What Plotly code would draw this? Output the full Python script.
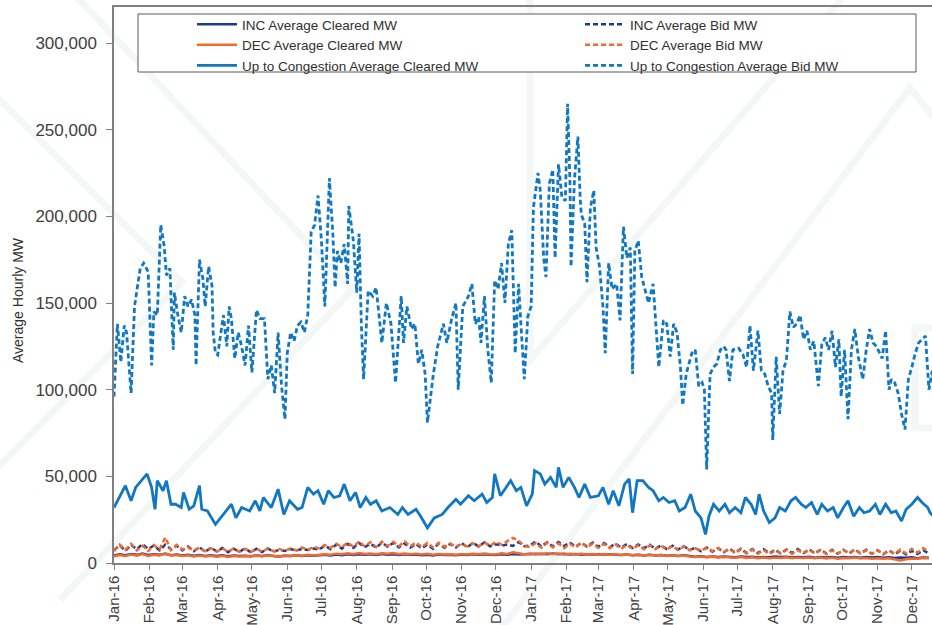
import pandas as pd
import plotly.graph_objects as go

# ---------------- data ----------------
START = "2016-01-01"

# Up to Congestion Average Bid MW (day offset from 1 Jan 2016, MW)
utc_bid_day = [0, 3, 6, 9, 11, 15, 18, 21, 23, 26, 30, 33, 35, 38, 41, 44, 46, 49, 52, 53,
               56, 59, 62, 65, 68, 71, 72, 75, 78, 80, 83, 86, 87, 89, 91, 96, 99, 101, 103, 106,
               109, 112, 115, 118, 121, 125, 128, 132, 135, 138, 141, 144, 147, 150, 152, 155, 158, 161, 164, 167,
               170, 173, 176, 179, 182, 185, 189, 192, 194, 196, 199, 202, 205, 206, 210, 213, 215, 217, 219, 223,
               227, 230, 235, 239, 243, 247, 252, 254, 257, 261, 264, 267, 270, 273, 275, 280, 284, 289, 292, 296,
               300, 302, 306, 311, 314, 317, 320, 322, 325, 328, 331, 334, 337, 340, 343, 346, 349, 352, 355, 357,
               360, 363, 366, 368, 372, 374, 377, 379, 382, 385, 387, 390, 393, 396, 398, 400, 401, 404, 407, 409,
               410, 413, 415, 418, 421, 423, 426, 429, 431, 434, 437, 441, 444, 447, 450, 453, 455, 457, 460, 463,
               466, 469, 473, 478, 482, 485, 488, 491, 494, 497, 499, 502, 507, 510, 513, 516, 518, 520, 523, 526,
               529, 532, 535, 537, 540, 543, 548, 552, 555, 558, 561, 565, 568, 571, 574, 577, 578, 581, 584, 587,
               590, 593, 596, 599, 602, 605, 608, 611, 614, 618, 621, 624, 627, 630, 633, 636, 638, 641, 644, 647,
               650, 653, 657, 660, 663, 666, 669, 674, 677, 680, 682, 685, 688, 691, 694, 697, 700, 703, 706, 709,
               712, 715, 718, 720]
utc_bid_mw = [96000, 138000, 116000, 137000, 133000, 98000, 148000, 162000, 170000, 173000, 168000, 114000, 145000, 143000, 195000, 183000, 166000, 170000, 123000, 156000,
              143000, 133000, 154000, 148000, 152000, 143000, 114000, 175000, 164000, 148000, 171000, 160000, 133000, 121000, 120000, 143000, 125000, 148000, 141000, 118000,
              133000, 125000, 114000, 137000, 110000, 146000, 141000, 141000, 106000, 114000, 98000, 133000, 102000, 83000, 121000, 133000, 128000, 137000, 139000, 133000,
              143000, 191000, 195000, 212000, 186000, 148000, 222000, 190000, 159000, 180000, 173000, 184000, 161000, 206000, 186000, 156000, 190000, 138000, 106000, 157000,
              154000, 159000, 127000, 150000, 138000, 104000, 154000, 127000, 148000, 135000, 138000, 115000, 123000, 109000, 81000, 108000, 125000, 138000, 127000, 140000,
              150000, 100000, 148000, 154000, 161000, 138000, 142000, 127000, 154000, 123000, 104000, 163000, 158000, 173000, 150000, 184000, 192000, 121000, 161000, 138000,
              106000, 142000, 148000, 205000, 225000, 215000, 176000, 165000, 219000, 227000, 176000, 230000, 211000, 209000, 265000, 221000, 171000, 221000, 246000, 211000,
              201000, 196000, 162000, 205000, 215000, 182000, 171000, 148000, 121000, 173000, 158000, 161000, 140000, 194000, 176000, 182000, 109000, 180000, 186000, 165000,
              158000, 150000, 161000, 113000, 140000, 138000, 119000, 138000, 133000, 113000, 91000, 109000, 121000, 123000, 102000, 104000, 100000, 54000, 109000, 113000,
              115000, 123000, 125000, 123000, 105000, 123000, 124000, 120000, 113000, 137000, 111000, 134000, 111000, 109000, 102000, 98000, 71000, 119000, 86000, 111000,
              117000, 145000, 136000, 138000, 143000, 129000, 134000, 123000, 128000, 102000, 126000, 130000, 123000, 134000, 113000, 129000, 96000, 123000, 83000, 123000,
              135000, 119000, 106000, 123000, 135000, 127000, 125000, 118000, 134000, 100000, 106000, 104000, 98000, 86000, 77000, 106000, 113000, 121000, 127000, 129000,
              131000, 100000, 111000, 97000]

# Up to Congestion Average Cleared MW
utc_clr_day = [0, 6, 10, 15, 19, 24, 29, 33, 36, 38, 43, 46, 50, 54, 59, 61, 66, 70, 75, 77,
               82, 89, 96, 103, 107, 112, 119, 124, 128, 131, 138, 144, 149, 154, 161, 165, 170, 175, 179, 184,
               188, 193, 198, 202, 207, 212, 216, 221, 225, 230, 235, 242, 249, 253, 258, 265, 269, 275, 281, 288,
               293, 300, 304, 311, 316, 323, 327, 332, 334, 339, 344, 348, 353, 357, 362, 367, 369, 374, 378, 383,
               388, 390, 394, 399, 404, 408, 413, 418, 425, 429, 434, 438, 443, 448, 452, 455, 459, 464, 469, 473,
               478, 482, 487, 492, 496, 501, 506, 510, 515, 519, 522, 526, 531, 536, 540, 545, 550, 554, 559, 563,
               566, 570, 575, 580, 584, 589, 594, 598, 603, 607, 612, 617, 621, 626, 631, 635, 640, 644, 649, 654,
               658, 663, 668, 672, 677, 682, 686, 691, 695, 700, 705, 709, 714, 716, 719]
utc_clr_mw = [32000, 39700, 44600, 35900, 43600, 47500, 51400, 43600, 31000, 47500, 41700, 47500, 33900, 33900, 32000, 40700, 31000, 33000, 44600, 31000,
              30000, 22300, 28000, 33900, 26000, 32000, 30000, 35900, 30000, 37800, 32000, 42600, 28000, 35900, 31000, 32000, 43600, 39700, 41700, 33900,
              41700, 37800, 38800, 45500, 35900, 40700, 32000, 37800, 33900, 35900, 30000, 32000, 28000, 32000, 28000, 31000, 27000, 20300, 26000, 28000,
              32000, 36800, 33900, 38800, 35900, 39700, 34900, 37800, 51400, 38800, 43600, 47500, 41700, 43600, 33000, 39700, 53300, 51400, 45500, 49400,
              43600, 55200, 43600, 49400, 43600, 37800, 45500, 37800, 38800, 43600, 33900, 41700, 33000, 45500, 48500, 29000, 47500, 47500, 43600, 41700,
              35900, 37800, 34900, 35900, 30000, 32000, 39700, 30000, 26000, 16500, 27000, 33900, 30000, 33900, 29000, 32000, 29000, 37800, 33900, 28000,
              39700, 30000, 23300, 26000, 32000, 30000, 35900, 37800, 33900, 32000, 34900, 28000, 33900, 30000, 32000, 26000, 32000, 35900, 27000, 32000,
              29000, 30000, 33900, 28000, 33900, 29000, 30000, 24200, 31000, 33900, 37800, 34900, 32000, 29000, 27000]

# INC / DEC series on a 5-day grid (day offsets 0, 5, 10, ...)
small_day = list(range(0, 720, 5))

inc_bid_mw = [7400, 10200, 7000, 10500, 7900, 10900, 8100, 10100, 7300, 10600, 7900, 10000,
              7200, 9500, 6800, 9100, 6500, 8800, 6700, 8600, 6200, 8300, 6400, 8500,
              6100, 8200, 6300, 8400, 6500, 7600, 7000, 8000, 7200, 8100, 7500, 8400,
              7800, 10000, 8000, 10600, 8300, 11100, 8700, 11600, 9100, 11200, 8800, 11800,
              9400, 11600, 9000, 11300, 8900, 10900, 8500, 10700, 8200, 11200, 8800, 11000,
              9000, 11400, 9100, 11700, 9400, 12000, 9600, 10800, 10000, 10700, 9800, 12100, 9700,
              10100, 12400, 9500, 11900, 9600, 12100, 9800, 11800, 9300, 11600, 9500, 11800,
              9400, 11500, 9100, 11200, 8900, 11000, 8700, 10700, 8500, 10500, 8200, 10200,
              8000, 10000, 7800, 9700, 7500, 8800, 6800, 8900, 6500, 8600, 6200, 8300,
              6000, 8200, 5800, 8000, 5700, 7900, 5600, 7700, 5500, 7800, 5700, 8000,
              5800, 7900, 5600, 7700, 5400, 7600, 5300, 7500, 5500, 7800, 5600, 7600,
              5300, 7400, 5100, 7300, 5000, 7200, 4900, 7000, 5200, 7400, 5500]

dec_bid_mw = [6800, 10600, 7600, 11100, 7200, 10000, 6900, 10400, 8000, 14800, 7400, 10500,
              7800, 9000, 7200, 8800, 6800, 8600, 6600, 8400, 6500, 8300, 6400, 8200,
              6300, 8200, 6500, 8400, 6700, 8000, 7000, 8500, 7200, 9000, 7400, 9400,
              8400, 10400, 8800, 11100, 9200, 11800, 9300, 12400, 9600, 12000, 9200, 12300,
              9800, 12200, 9700, 12500, 9600, 11800, 9200, 11700, 9000, 11600, 9400, 11200,
              9300, 11100, 9500, 11400, 9600, 11800, 9900, 12300, 10600, 12400, 14500, 12800, 9900,
              9200, 11500, 8800, 11700, 9000, 11300, 8600, 11100, 8900, 11800, 9100, 11200,
              8700, 11000, 8500, 10700, 8300, 10400, 8100, 10300, 7900, 10100, 8000, 10000,
              7700, 9800, 7500, 9600, 7300, 8400, 7200, 8800, 6900, 8500, 6600, 8000,
              5700, 7900, 5500, 7700, 5300, 7500, 5100, 7300, 5400, 7600, 5200, 7400,
              5500, 7700, 5300, 7500, 5100, 7300, 5400, 7700, 5600, 7900, 5500, 7500,
              5200, 7400, 5000, 7200, 5300, 7700, 5500, 8200, 6000, 8600, 6300]

inc_clr_mw = [4300, 5000, 4500, 5200, 4700, 5400, 4600, 5100, 4800, 5300, 4500, 4900,
              4400, 4800, 4200, 4600, 4100, 4500, 4000, 4400, 3900, 4300, 4000, 4200,
              3900, 4300, 4000, 4400, 4100, 3800, 4200, 4000, 4400, 4100, 4500, 4200,
              4400, 4800, 4300, 4900, 4500, 5000, 4600, 5100, 4700, 5000, 4600, 5200,
              4800, 5100, 4600, 5000, 4700, 4900, 4500, 4800, 4400, 4900, 4600, 4800,
              4500, 4900, 4600, 5000, 4700, 5100, 4800, 4600, 5000, 4700, 5200, 4900, 5100,
              5300, 5000, 5400, 5100, 5500, 5000, 5300, 4900, 5200, 4800, 5100, 4900,
              5000, 4700, 5100, 4800, 4600, 4900, 4500, 4800, 4400, 4700, 4300, 4600,
              4200, 4500, 4100, 4400, 3900, 3600, 3900, 3500, 3800, 3400, 3700, 3500,
              3300, 3700, 3400, 3600, 3200, 3500, 3300, 3700, 3400, 3600, 3200, 3500,
              3300, 3600, 3100, 3500, 3200, 3400, 3000, 3500, 3200, 3400, 3100, 3500,
              3200, 3400, 3000, 3300, 2900, 3200, 3000, 3300, 2800, 3200, 3000]

dec_clr_mw = [3800, 4600, 4000, 4900, 4200, 5100, 4100, 4700, 4400, 5600, 4300, 4600,
              4000, 4500, 3800, 4300, 3700, 4200, 3600, 4100, 3500, 4000, 3700, 4100,
              3800, 4200, 3900, 4300, 4000, 3700, 4300, 4000, 4500, 4200, 4700, 4400,
              4700, 5100, 4800, 5400, 5000, 5600, 5100, 5700, 5200, 5500, 5000, 5600,
              5300, 5700, 5100, 5500, 5000, 5400, 4900, 5300, 4800, 5200, 4900, 5100,
              4800, 5200, 4900, 5400, 5000, 5500, 5100, 4900, 5600, 5200, 6200, 5400, 5000,
              5100, 5500, 5000, 5600, 5200, 5500, 4900, 5400, 5000, 5300, 4900, 5200,
              4800, 5200, 4700, 5000, 4600, 4900, 4500, 4800, 4400, 4700, 4300, 4600,
              4100, 4400, 4000, 4300, 3800, 3500, 3800, 3300, 3600, 3200, 3500, 3100,
              3000, 3400, 2900, 3300, 2800, 3200, 2700, 3100, 2900, 3300, 2800, 3100,
              2900, 3200, 2700, 3100, 2600, 3000, 2500, 2900, 2700, 3100, 2600, 2900,
              2500, 2800, 2400, 2700, 2300, 1500, 2200, 2600, 2400, 2900, 2700]

y_tick_vals = [0, 50000, 100000, 150000, 200000, 250000, 300000]

# ---------------- helpers ----------------
def to_dates(days):
    return pd.Timestamp(START) + pd.to_timedelta(days, unit="D")

W, H = 932, 625
L, R, T, B = 114, 932, 7, 563


def px(x):
    return (x - L) / (R - L)


def py(y):
    return (B - y) / (B - T)


NAVY = "#1F3B8F"
ORANGE = "#F26A2C"
BLUE = "#1177C2"
SANS = "Liberation Sans, Arial, sans-serif"
DASH = "5px,3px"

fig = go.Figure()
small_x = to_dates(small_day)
fig.add_trace(go.Scatter(x=small_x, y=inc_clr_mw, mode="lines", name="INC Average Cleared MW",
                         legend="legend", line=dict(color=NAVY, width=2.5)))
fig.add_trace(go.Scatter(x=small_x, y=inc_bid_mw, mode="lines", name="INC Average Bid MW",
                         legend="legend2", line=dict(color=NAVY, width=2.5, dash=DASH)))
fig.add_trace(go.Scatter(x=small_x, y=dec_clr_mw, mode="lines", name="DEC Average Cleared MW",
                         legend="legend", line=dict(color=ORANGE, width=2.5)))
fig.add_trace(go.Scatter(x=small_x, y=dec_bid_mw, mode="lines", name="DEC Average Bid MW",
                         legend="legend2", line=dict(color=ORANGE, width=2.5, dash=DASH)))
fig.add_trace(go.Scatter(x=to_dates(utc_clr_day), y=utc_clr_mw, mode="lines",
                         name="Up to Congestion Average Cleared MW",
                         legend="legend", line=dict(color=BLUE, width=2.8)))
fig.add_trace(go.Scatter(x=to_dates(utc_bid_day), y=utc_bid_mw, mode="lines",
                         name="Up to Congestion Average Bid MW",
                         legend="legend2", line=dict(color=BLUE, width=2.8, dash=DASH)))

# faint watermark strokes of the slide background
WM = "rgba(222,233,230,0.35)"
wm_paths = [
    [(75, -5), (352, 290), (60, 600)],
    [(-5, 95), (182, 282), (-5, 470)],
    [(530, -5), (530, 360), (845, -5)],
    [(500, 630), (910, 88), (940, 125)],
]
shapes = []
for pts in wm_paths:
    path = "M " + " L ".join(f"{px(x):.4f},{py(y):.4f}" for x, y in pts)
    shapes.append(dict(type="path", xref="paper", yref="paper", path=path,
                       line=dict(color=WM, width=7), layer="below"))
shapes.append(dict(type="path", xref="paper", yref="paper",
                   path=f"M {px(945):.4f},{py(328):.4f} L {px(915):.4f},{py(328):.4f} L {px(915):.4f},{py(428):.4f} L {px(945):.4f},{py(428):.4f}",
                   line=dict(color=WM, width=7), layer="below"))
# legend frame
shapes.append(dict(type="rect", xref="paper", yref="paper",
                   x0=px(138), x1=px(916), y0=py(72), y1=py(14),
                   line=dict(color="#5a5a5a", width=1), fillcolor="white", layer="below"))

legend_common = dict(orientation="v", yanchor="top", xanchor="left", bgcolor="rgba(0,0,0,0)",
                     borderwidth=0, font=dict(family=SANS, size=13.5, color="#303030"),
                     itemwidth=40, tracegroupgap=0)

fig.update_layout(
    width=W, height=H,
    margin=dict(l=L, r=W - R, t=T, b=H - B),
    paper_bgcolor="white", plot_bgcolor="rgba(0,0,0,0)",
    font=dict(family=SANS, color="#404040"),
    showlegend=True,
    legend=dict(x=px(192), y=py(9), **legend_common),
    legend2=dict(x=px(580), y=py(9), **legend_common),
    shapes=shapes,
    annotations=[dict(text="Average Hourly MW", xref="paper", yref="paper",
                      x=px(18), y=py(300), xanchor="center", yanchor="middle",
                      textangle=-90, showarrow=False,
                      font=dict(family=SANS, size=14, color="#303030"))],
)
fig.update_xaxes(
    type="date", range=["2016-01-01", "2017-12-18 17:00"],
    tick0="2016-01-01", dtick="M1", tickformat="%b-%y", tickangle=-90,
    ticks="outside", ticklen=5, tickcolor="#808080",
    showline=True, linecolor="#808080", linewidth=1.5, mirror=True,
    showgrid=False, zeroline=False,
    tickfont=dict(family=SANS, size=15, color="#404040"),
)
fig.update_yaxes(
    range=[0, 300000 * (B - T) / 520],
    tickvals=y_tick_vals, tickformat=",",
    ticks="outside", ticklen=6, tickcolor="#808080", ticklabelstandoff=6,
    showline=True, linecolor="#808080", linewidth=1.5,
    showgrid=False, zeroline=False,
    tickfont=dict(family=SANS, size=17, color="#404040"),
)

fig.write_html("out.html", config={"displayModeBar": False},
               post_script="document.body.style.margin='0';document.body.style.overflow='hidden';")
